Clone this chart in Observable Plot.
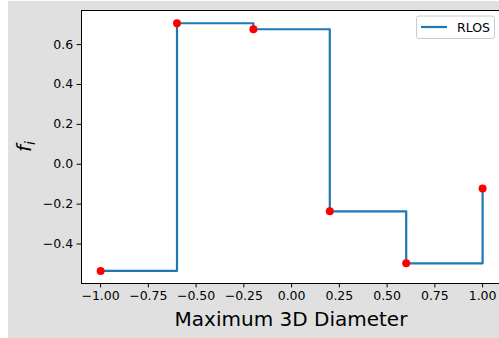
<!DOCTYPE html>
<html>
<head>
<meta charset="utf-8">
<script src="https://cdn.jsdelivr.net/npm/d3@7"></script>
<script src="https://cdn.jsdelivr.net/npm/@observablehq/plot@0.6"></script>
<style>
  html, body { margin: 0; padding: 0; background: #ffffff; overflow: hidden; }
  #bg { position: absolute; left: 8px; top: 1px; width: 491px; height: 337px; background: #e0e0e0; }
  #chart { position: absolute; left: 0; top: 0; }
  svg { font-family: "DejaVu Sans", sans-serif; }
</style>
</head>
<body>
<div id="bg"></div>
<div id="chart"></div>
<script>
// Data
const xValues = [-1.0, -0.6, -0.2, 0.2, 0.6, 1.0];
const fValues = [-0.535, 0.707, 0.677, -0.236, -0.497, -0.121];
const xTicks = [-1.0, -0.75, -0.5, -0.25, 0.0, 0.25, 0.5, 0.75, 1.0];
const yTicks = [-0.4, -0.2, 0.0, 0.2, 0.4, 0.6];
const seriesName = "RLOS";
const xLabel = "Maximum 3D Diameter";

const data = xValues.map((x, i) => ({x, y: fValues[i]}));

const W = 499, H = 338;
const mL = 81, mT = 10, mB = 55, mR = 0;

const plot = Plot.plot({
  width: W,
  height: H,
  marginLeft: mL,
  marginTop: mT,
  marginBottom: mB,
  marginRight: mR,
  style: {background: "transparent", fontFamily: "DejaVu Sans, sans-serif", fontSize: "12.5px", color: "#000"},
  x: {domain: [-1.1, 1.0885]},
  y: {domain: [-0.598, 0.771]},
  marks: [
    Plot.frame({fill: "white"}),
    Plot.axisX(xTicks, {tickFormat: d3.format(".2f"), tickSize: 4.4, tickPadding: 3.5, label: null, fontSize: 12.5, stroke: "black"}),
    Plot.axisY(yTicks, {tickFormat: d3.format(".1f"), tickSize: 4.4, tickPadding: 4, label: null, fontSize: 12.5, stroke: "black"}),
    Plot.line(data, {x: "x", y: "y", curve: "step-after", stroke: "#1f77b4", strokeWidth: 2.2}),
    Plot.dot(data, {x: "x", y: "y", r: 4, fill: "#ff0000", stroke: "none"}),
    Plot.frame({anchor: "top", stroke: "black"}),
    Plot.frame({anchor: "left", stroke: "black"}),
    Plot.frame({anchor: "bottom", stroke: "black"})
  ]
});

document.getElementById("chart").appendChild(plot);

const svg = d3.select(plot);
// x label
svg.append("text")
  .attr("x", (mL + 501) / 2)
  .attr("y", 326)
  .attr("text-anchor", "middle")
  .attr("font-size", 20)
  .attr("fill", "black")
  .text(xLabel);
// y label f_i
const yl = svg.append("text")
  .attr("transform", `translate(31, ${(mT + H - mB) / 2}) rotate(-90)`)
  .attr("text-anchor", "middle")
  .attr("font-size", 20)
  .attr("font-family", "DejaVu Sans, sans-serif")
  .attr("font-style", "italic")
  .attr("fill", "black");
yl.append("tspan").text("f");
yl.append("tspan").attr("font-size", 14).attr("dy", 4).text("i");

// legend
const lg = svg.append("g");
lg.append("rect")
  .attr("x", 416.5).attr("y", 16).attr("width", 78).attr("height", 22.5)
  .attr("rx", 2.5).attr("fill", "white").attr("fill-opacity", 0.8)
  .attr("stroke", "#cccccc").attr("stroke-width", 1);
lg.append("line")
  .attr("x1", 421).attr("x2", 447).attr("y1", 27).attr("y2", 27)
  .attr("stroke", "#1f77b4").attr("stroke-width", 2.2);
lg.append("text")
  .attr("x", 457).attr("y", 31.5)
  .attr("text-anchor", "start")
  .attr("font-size", 12.5).attr("fill", "black")
  .text(seriesName);
</script>
</body>
</html>
